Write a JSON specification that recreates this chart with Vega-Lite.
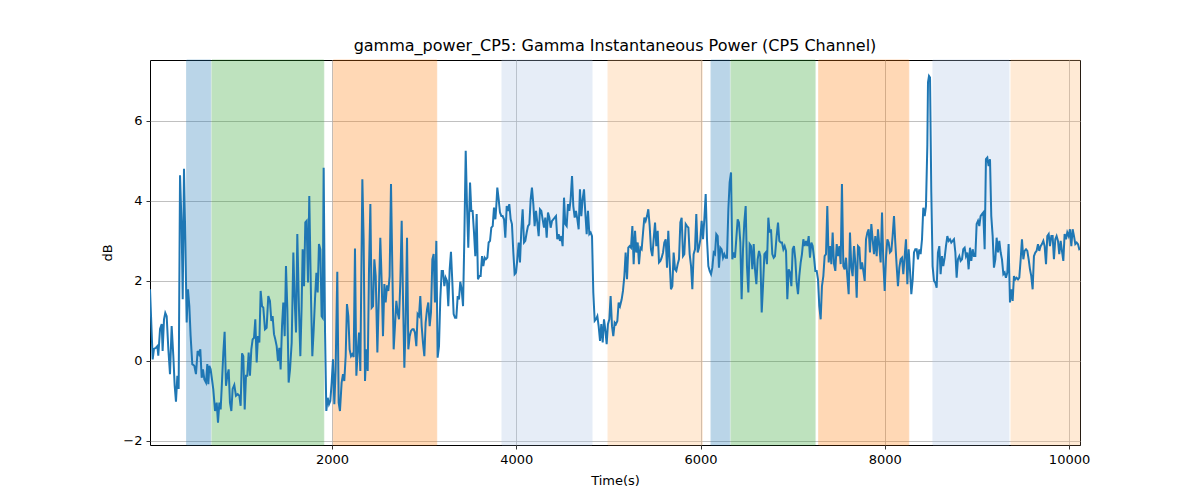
{
  "$schema": "https://vega.github.io/schema/vega-lite/v6.json",
  "description": "Gamma instantaneous power, CP5 channel, with shaded segments",
  "autosize": {"type": "none"},
  "padding": {"left": 150, "top": 60, "right": 120, "bottom": 55},
  "width": 930,
  "height": 385,
  "background": "white",
  "config": {
    "font": "DejaVu Sans",
    "view": {"stroke": "black", "strokeWidth": 1},
    "axis": {
      "domain": false,
      "grid": true,
      "gridColor": "#b0b0b0",
      "gridWidth": 0.8,
      "tickColor": "black",
      "tickSize": 4,
      "tickWidth": 0.8,
      "labelFont": "DejaVu Sans",
      "labelFontSize": 13,
      "labelColor": "black",
      "titleFont": "DejaVu Sans",
      "titleFontSize": 13,
      "titleFontWeight": "normal",
      "titleColor": "black"
    }
  },
  "title": {
    "text": "gamma_power_CP5: Gamma Instantaneous Power (CP5 Channel)",
    "fontSize": 16,
    "fontWeight": "normal",
    "color": "black",
    "font": "DejaVu Sans",
    "offset": 6
  },
  "datasets": {
    "bands": [
      {"start": 422, "end": 683, "kind": "a"},
      {"start": 697, "end": 1910, "kind": "b"},
      {"start": 2014, "end": 3136, "kind": "c"},
      {"start": 3845, "end": 4822, "kind": "d"},
      {"start": 4996, "end": 6019, "kind": "e"},
      {"start": 6114, "end": 6317, "kind": "a"},
      {"start": 6331, "end": 7243, "kind": "b"},
      {"start": 7283, "end": 8260, "kind": "c"},
      {"start": 8523, "end": 9348, "kind": "d"},
      {"start": 9370, "end": 10119, "kind": "e"}
    ],
    "power": [
      {"t":24,"v":1.79},{"t":53,"v":0.04},{"t":67,"v":0.3},{"t":89,"v":0.33},{"t":104,"v":0.37},{"t":114,"v":0.13},{"t":133,"v":0.8},{"t":151,"v":0.92},{"t":161,"v":0.25},{"t":176,"v":1.04},{"t":190,"v":1.2},{"t":205,"v":1.12},{"t":223,"v":0.3},{"t":241,"v":-0.33},{"t":259,"v":0.87},{"t":277,"v":0.13},{"t":292,"v":-0.62},{"t":306,"v":-1.02},{"t":321,"v":-0.37},{"t":335,"v":-0.7},{"t":350,"v":4.64},{"t":368,"v":3.3},{"t":379,"v":1.54},{"t":393,"v":4.8},{"t":408,"v":2.96},{"t":422,"v":0.96},{"t":436,"v":1.79},{"t":451,"v":1.37},{"t":465,"v":0.62},{"t":483,"v":-0.08},{"t":505,"v":-0.12},{"t":523,"v":-0.33},{"t":541,"v":0.25},{"t":556,"v":0.17},{"t":570,"v":0.29},{"t":585,"v":-0.42},{"t":599,"v":-0.21},{"t":614,"v":-0.46},{"t":632,"v":-0.54},{"t":646,"v":-0.08},{"t":657,"v":-0.58},{"t":668,"v":-0.12},{"t":682,"v":-0.21},{"t":697,"v":-0.46},{"t":711,"v":-0.71},{"t":730,"v":-1.25},{"t":748,"v":-1.04},{"t":762,"v":-1.54},{"t":777,"v":-1.04},{"t":791,"v":-1.21},{"t":805,"v":-0.54},{"t":820,"v":0.21},{"t":834,"v":0.73},{"t":849,"v":-0.62},{"t":863,"v":-0.37},{"t":878,"v":-0.21},{"t":892,"v":-1.04},{"t":907,"v":-1.25},{"t":921,"v":-0.7},{"t":939,"v":-0.6},{"t":957,"v":-0.87},{"t":976,"v":-0.83},{"t":994,"v":-0.87},{"t":1008,"v":-1.12},{"t":1023,"v":0.19},{"t":1037,"v":0.12},{"t":1052,"v":-1.21},{"t":1066,"v":-0.37},{"t":1080,"v":-0.37},{"t":1095,"v":0.21},{"t":1109,"v":-0.37},{"t":1124,"v":0.29},{"t":1138,"v":0.54},{"t":1153,"v":0.58},{"t":1167,"v":1.04},{"t":1182,"v":-0.04},{"t":1196,"v":0.62},{"t":1211,"v":0.46},{"t":1225,"v":1.75},{"t":1240,"v":1.37},{"t":1254,"v":1.33},{"t":1272,"v":0.79},{"t":1290,"v":0.83},{"t":1308,"v":1.62},{"t":1326,"v":1.5},{"t":1341,"v":1.0},{"t":1355,"v":1.12},{"t":1370,"v":0.67},{"t":1384,"v":0.54},{"t":1399,"v":0.37},{"t":1413,"v":0},{"t":1428,"v":0.33},{"t":1442,"v":-0.21},{"t":1457,"v":0.87},{"t":1471,"v":1.46},{"t":1486,"v":0.62},{"t":1500,"v":2.37},{"t":1515,"v":1.29},{"t":1529,"v":-0.54},{"t":1544,"v":-0.21},{"t":1562,"v":0.46},{"t":1580,"v":2.71},{"t":1594,"v":1.54},{"t":1609,"v":0.71},{"t":1623,"v":3.17},{"t":1641,"v":1.29},{"t":1656,"v":0.12},{"t":1670,"v":1.37},{"t":1681,"v":2.79},{"t":1696,"v":1.87},{"t":1710,"v":3.46},{"t":1724,"v":3.5},{"t":1739,"v":1.96},{"t":1753,"v":4.12},
      {"t":1772,"v":1.54},{"t":1786,"v":0.12},{"t":1801,"v":0.79},{"t":1815,"v":1.54},{"t":1830,"v":2.2},{"t":1844,"v":1.71},{"t":1858,"v":2.92},{"t":1873,"v":2.79},{"t":1887,"v":1.12},{"t":1898,"v":1.08},{"t":1909,"v":4.83},{"t":1924,"v":0.71},{"t":1938,"v":-1.25},{"t":1953,"v":-0.92},{"t":1967,"v":-1.08},{"t":1981,"v":-1.0},{"t":1996,"v":-0.54},{"t":2010,"v":0.04},{"t":2025,"v":-1.08},{"t":2039,"v":-0.21},{"t":2057,"v":2.23},{"t":2072,"v":-1.04},{"t":2086,"v":-1.25},{"t":2104,"v":-0.54},{"t":2119,"v":-0.33},{"t":2133,"v":-0.5},{"t":2148,"v":0.12},{"t":2162,"v":1.42},{"t":2177,"v":1.12},{"t":2191,"v":0.29},{"t":2206,"v":0.12},{"t":2220,"v":0.17},{"t":2235,"v":0.1},{"t":2249,"v":2.81},{"t":2264,"v":-0.37},{"t":2278,"v":0.21},{"t":2293,"v":0.71},{"t":2307,"v":-0.25},{"t":2329,"v":4.54},{"t":2343,"v":3.04},{"t":2358,"v":-0.5},{"t":2372,"v":0.29},{"t":2387,"v":-0.25},{"t":2401,"v":2.25},{"t":2416,"v":3.92},{"t":2430,"v":1.33},{"t":2445,"v":1.37},{"t":2459,"v":2.54},{"t":2474,"v":2.12},{"t":2492,"v":0.21},{"t":2510,"v":1.79},{"t":2524,"v":3.08},{"t":2539,"v":1.96},{"t":2553,"v":0.62},{"t":2568,"v":1.92},{"t":2582,"v":1.46},{"t":2597,"v":1.89},{"t":2611,"v":1.75},{"t":2625,"v":2.12},{"t":2640,"v":4.42},{"t":2654,"v":2.37},{"t":2669,"v":0.29},{"t":2683,"v":0.87},{"t":2698,"v":1.5},{"t":2712,"v":1.21},{"t":2727,"v":1.04},{"t":2741,"v":1.96},{"t":2756,"v":3.5},{"t":2770,"v":1.62},{"t":2785,"v":-0.17},{"t":2799,"v":0.96},{"t":2814,"v":3.08},{"t":2828,"v":0.29},{"t":2843,"v":0.62},{"t":2857,"v":0.75},{"t":2872,"v":0.79},{"t":2886,"v":0.79},{"t":2900,"v":0.71},{"t":2915,"v":0.37},{"t":2929,"v":1.17},{"t":2944,"v":1.12},{"t":2958,"v":1.62},{"t":2973,"v":0.87},{"t":2987,"v":0.46},{"t":3002,"v":0.12},{"t":3016,"v":0.96},{"t":3031,"v":1.29},{"t":3045,"v":1.46},{"t":3060,"v":0.87},{"t":3074,"v":1.21},{"t":3089,"v":2.54},{"t":3103,"v":2.67},{"t":3117,"v":1.46},{"t":3132,"v":3.0},{"t":3146,"v":0.08},{"t":3161,"v":0.37},{"t":3175,"v":1.54},{"t":3190,"v":2.25},{"t":3204,"v":2.25},{"t":3219,"v":1.87},{"t":3233,"v":2.08},{"t":3248,"v":2.0},{"t":3262,"v":1.37},{"t":3277,"v":2.29},{"t":3291,"v":2.73},{"t":3306,"v":1.96},{"t":3320,"v":1.17},{"t":3335,"v":1.08},{"t":3349,"v":1.08},{"t":3364,"v":1.62},{"t":3378,"v":1.54},{"t":3392,"v":1.98},{"t":3407,"v":1.79},
      {"t":3422,"v":1.37},{"t":3436,"v":3.04},{"t":3451,"v":5.25},{"t":3465,"v":3.87},{"t":3479,"v":2.83},{"t":3498,"v":4.46},{"t":3512,"v":3.75},{"t":3526,"v":3.75},{"t":3541,"v":3.21},{"t":3555,"v":2.62},{"t":3570,"v":3.67},{"t":3584,"v":2.04},{"t":3599,"v":2.12},{"t":3613,"v":2.12},{"t":3628,"v":2.62},{"t":3642,"v":2.37},{"t":3657,"v":2.58},{"t":3671,"v":2.54},{"t":3686,"v":2.58},{"t":3700,"v":2.96},{"t":3715,"v":3.0},{"t":3729,"v":3.33},{"t":3744,"v":3.37},{"t":3758,"v":3.83},{"t":3773,"v":3.54},{"t":3783,"v":3.87},{"t":3794,"v":4.33},{"t":3809,"v":4.04},{"t":3823,"v":3.71},{"t":3838,"v":3.62},{"t":3852,"v":3.62},{"t":3867,"v":3.54},{"t":3881,"v":3.08},{"t":3896,"v":3.87},{"t":3910,"v":3.75},{"t":3924,"v":3.92},{"t":3939,"v":3.54},{"t":3953,"v":3.42},{"t":3968,"v":2.71},{"t":3982,"v":2.17},{"t":3997,"v":2.21},{"t":4011,"v":2.54},{"t":4026,"v":2.96},{"t":4040,"v":2.46},{"t":4055,"v":3.29},{"t":4069,"v":3.79},{"t":4084,"v":2.96},{"t":4098,"v":3.0},{"t":4113,"v":3.21},{"t":4127,"v":3.37},{"t":4142,"v":3.42},{"t":4156,"v":4.04},{"t":4170,"v":4.33},{"t":4185,"v":3.92},{"t":4199,"v":3.37},{"t":4214,"v":3.75},{"t":4228,"v":3.46},{"t":4243,"v":3.12},{"t":4257,"v":3.79},{"t":4272,"v":3.75},{"t":4286,"v":3.54},{"t":4301,"v":3.33},{"t":4315,"v":3.58},{"t":4330,"v":3.08},{"t":4344,"v":3.71},{"t":4359,"v":3.58},{"t":4373,"v":3.33},{"t":4388,"v":3.5},{"t":4402,"v":3.54},{"t":4417,"v":3.58},{"t":4431,"v":3.62},{"t":4445,"v":3.04},{"t":4460,"v":3.17},{"t":4474,"v":3.0},{"t":4489,"v":3.12},{"t":4503,"v":2.87},{"t":4518,"v":4.08},{"t":4532,"v":3.42},{"t":4547,"v":3.37},{"t":4561,"v":3.92},{"t":4576,"v":3.75},{"t":4590,"v":4.04},{"t":4605,"v":4.62},{"t":4619,"v":3.87},{"t":4634,"v":3.58},{"t":4648,"v":3.75},{"t":4663,"v":3.54},{"t":4677,"v":3.29},{"t":4691,"v":4.29},{"t":4706,"v":3.62},{"t":4720,"v":4.04},{"t":4735,"v":4.29},{"t":4749,"v":3.71},{"t":4764,"v":3.17},{"t":4778,"v":3.75},{"t":4793,"v":3.17},{"t":4807,"v":3.21},{"t":4822,"v":3.12},{"t":4836,"v":1.71},{"t":4851,"v":1.0},{"t":4865,"v":1.04},{"t":4880,"v":1.12},{"t":4894,"v":0.87},{"t":4909,"v":0.5},{"t":4923,"v":0.92},{"t":4938,"v":0.46},{"t":4952,"v":1.04},{"t":4966,"v":0.79},{"t":4981,"v":0.42},{"t":4995,"v":0.92},{"t":5010,"v":1.04},{"t":5024,"v":1.62},{"t":5039,"v":0.87},{"t":5053,"v":0.62},{"t":5068,"v":0.96},{"t":5082,"v":0.92},{"t":5097,"v":1.0},{"t":5111,"v":1.46},{"t":5126,"v":1.37},
      {"t":5144,"v":1.54},{"t":5158,"v":1.75},{"t":5173,"v":2.12},{"t":5187,"v":2.71},{"t":5202,"v":2.04},{"t":5216,"v":2.83},{"t":5231,"v":2.87},{"t":5245,"v":2.83},{"t":5260,"v":3.37},{"t":5274,"v":2.42},{"t":5289,"v":3.25},{"t":5303,"v":2.71},{"t":5318,"v":2.96},{"t":5332,"v":2.42},{"t":5347,"v":2.83},{"t":5361,"v":2.79},{"t":5376,"v":3.21},{"t":5390,"v":3.58},{"t":5404,"v":3.5},{"t":5419,"v":3.62},{"t":5433,"v":3.79},{"t":5448,"v":3.37},{"t":5462,"v":2.79},{"t":5477,"v":2.62},{"t":5491,"v":3.04},{"t":5506,"v":3.46},{"t":5520,"v":2.87},{"t":5535,"v":3.25},{"t":5549,"v":2.46},{"t":5564,"v":2.5},{"t":5578,"v":2.58},{"t":5593,"v":2.71},{"t":5607,"v":2.96},{"t":5622,"v":3.04},{"t":5636,"v":2.33},{"t":5650,"v":3.25},{"t":5665,"v":2.46},{"t":5679,"v":1.79},{"t":5694,"v":1.87},{"t":5708,"v":2.71},{"t":5723,"v":2.29},{"t":5737,"v":2.25},{"t":5752,"v":2.42},{"t":5766,"v":2.54},{"t":5781,"v":3.46},{"t":5795,"v":3.58},{"t":5810,"v":2.62},{"t":5824,"v":2.67},{"t":5839,"v":3.42},{"t":5853,"v":3.37},{"t":5868,"v":3.33},{"t":5882,"v":2.67},{"t":5897,"v":2.37},{"t":5911,"v":1.79},{"t":5925,"v":2.67},{"t":5940,"v":2.79},{"t":5954,"v":3.67},{"t":5969,"v":2.71},{"t":5983,"v":2.83},{"t":5998,"v":3.04},{"t":6012,"v":3.5},{"t":6027,"v":3.04},{"t":6041,"v":3.54},{"t":6056,"v":4.17},{"t":6070,"v":3.04},{"t":6085,"v":2.37},{"t":6099,"v":2.25},{"t":6114,"v":2.17},{"t":6128,"v":2.33},{"t":6143,"v":2.71},{"t":6157,"v":2.67},{"t":6171,"v":3.17},{"t":6186,"v":3.12},{"t":6200,"v":2.33},{"t":6215,"v":2.83},{"t":6229,"v":2.79},{"t":6244,"v":2.58},{"t":6258,"v":2.67},{"t":6273,"v":2.58},{"t":6287,"v":2.58},{"t":6302,"v":3.79},{"t":6316,"v":4.46},{"t":6331,"v":4.71},{"t":6345,"v":2.54},{"t":6360,"v":2.71},{"t":6374,"v":2.58},{"t":6389,"v":3.08},{"t":6403,"v":3.54},{"t":6417,"v":3.46},{"t":6432,"v":2.96},{"t":6446,"v":1.54},{"t":6461,"v":2.79},{"t":6475,"v":3.46},{"t":6490,"v":3.87},{"t":6504,"v":2.37},{"t":6519,"v":1.71},{"t":6533,"v":2.92},{"t":6548,"v":2.87},{"t":6562,"v":2.29},{"t":6577,"v":2.92},{"t":6591,"v":2.29},{"t":6606,"v":1.92},{"t":6620,"v":2.54},{"t":6635,"v":2.75},{"t":6649,"v":2.62},{"t":6664,"v":1.21},{"t":6678,"v":1.87},{"t":6693,"v":2.67},{"t":6707,"v":2.71},{"t":6721,"v":2.42},{"t":6736,"v":3.58},{"t":6750,"v":3.21},{"t":6765,"v":3.29},{"t":6779,"v":2.67},{"t":6794,"v":2.58},{"t":6808,"v":2.62},
      {"t":6826,"v":3.12},{"t":6841,"v":3.46},{"t":6855,"v":3.0},{"t":6870,"v":2.96},{"t":6884,"v":2.96},{"t":6899,"v":2.79},{"t":6913,"v":2.87},{"t":6928,"v":2.75},{"t":6942,"v":1.54},{"t":6957,"v":2.29},{"t":6971,"v":2.21},{"t":6986,"v":1.87},{"t":7000,"v":2.79},{"t":7014,"v":2.87},{"t":7029,"v":2.54},{"t":7043,"v":1.96},{"t":7058,"v":1.67},{"t":7072,"v":2.12},{"t":7087,"v":2.46},{"t":7101,"v":2.67},{"t":7116,"v":3.04},{"t":7130,"v":2.87},{"t":7145,"v":3.0},{"t":7159,"v":2.87},{"t":7174,"v":3.12},{"t":7188,"v":2.58},{"t":7203,"v":2.96},{"t":7217,"v":2.87},{"t":7232,"v":2.58},{"t":7246,"v":2.25},{"t":7261,"v":2.25},{"t":7275,"v":2.04},{"t":7289,"v":1.37},{"t":7304,"v":1.04},{"t":7318,"v":1.87},{"t":7333,"v":2.12},{"t":7347,"v":2.62},{"t":7362,"v":2.67},{"t":7376,"v":3.87},{"t":7391,"v":2.46},{"t":7405,"v":2.87},{"t":7420,"v":2.42},{"t":7434,"v":3.21},{"t":7449,"v":2.42},{"t":7463,"v":2.25},{"t":7478,"v":2.92},{"t":7492,"v":2.62},{"t":7507,"v":2.87},{"t":7521,"v":2.42},{"t":7535,"v":4.42},{"t":7550,"v":2.37},{"t":7564,"v":2.29},{"t":7579,"v":2.58},{"t":7593,"v":2.12},{"t":7608,"v":1.67},{"t":7622,"v":3.21},{"t":7637,"v":2.33},{"t":7651,"v":2.12},{"t":7666,"v":2.87},{"t":7680,"v":2.46},{"t":7695,"v":1.58},{"t":7709,"v":2.87},{"t":7724,"v":2.83},{"t":7738,"v":2.29},{"t":7753,"v":2.46},{"t":7767,"v":2.25},{"t":7782,"v":2.0},{"t":7796,"v":3.04},{"t":7811,"v":3.21},{"t":7825,"v":3.29},{"t":7839,"v":2.71},{"t":7854,"v":3.42},{"t":7868,"v":3.04},{"t":7883,"v":2.67},{"t":7897,"v":3.12},{"t":7912,"v":2.62},{"t":7926,"v":3.29},{"t":7941,"v":2.87},{"t":7955,"v":2.46},{"t":7970,"v":3.71},{"t":7984,"v":2.46},{"t":7999,"v":1.75},{"t":8013,"v":2.58},{"t":8028,"v":3.04},{"t":8042,"v":2.96},{"t":8056,"v":2.71},{"t":8071,"v":2.75},{"t":8085,"v":3.12},{"t":8100,"v":3.62},{"t":8114,"v":2.96},{"t":8129,"v":2.37},{"t":8143,"v":1.87},{"t":8158,"v":2.33},{"t":8172,"v":2.54},{"t":8187,"v":2.58},{"t":8201,"v":2.17},{"t":8216,"v":2.62},{"t":8230,"v":3.04},{"t":8245,"v":1.92},{"t":8259,"v":2.79},{"t":8274,"v":2.25},{"t":8288,"v":1.67},{"t":8303,"v":2.04},{"t":8317,"v":2.71},{"t":8331,"v":2.79},{"t":8346,"v":2.79},{"t":8360,"v":2.54},{"t":8375,"v":2.79},{"t":8389,"v":2.67},{"t":8404,"v":3.04},{"t":8418,"v":3.83},{"t":8433,"v":3.62},{"t":8447,"v":3.87},
      {"t":8462,"v":5.4},{"t":8469,"v":6.96},{"t":8480,"v":7.12},{"t":8491,"v":7.08},{"t":8505,"v":4.21},{"t":8519,"v":2.37},{"t":8534,"v":2.0},{"t":8548,"v":1.96},{"t":8563,"v":1.83},{"t":8577,"v":2.71},{"t":8592,"v":2.87},{"t":8606,"v":2.17},{"t":8621,"v":2.62},{"t":8635,"v":2.37},{"t":8650,"v":2.58},{"t":8664,"v":2.87},{"t":8679,"v":3.12},{"t":8693,"v":3.0},{"t":8708,"v":3.04},{"t":8722,"v":2.96},{"t":8737,"v":3.0},{"t":8751,"v":3.04},{"t":8766,"v":2.71},{"t":8780,"v":2.08},{"t":8794,"v":2.54},{"t":8809,"v":2.62},{"t":8823,"v":2.5},{"t":8838,"v":2.54},{"t":8852,"v":2.79},{"t":8867,"v":2.83},{"t":8881,"v":2.62},{"t":8896,"v":2.71},{"t":8910,"v":2.29},{"t":8925,"v":2.83},{"t":8939,"v":2.5},{"t":8954,"v":2.79},{"t":8968,"v":2.62},{"t":8983,"v":2.62},{"t":8997,"v":3.42},{"t":9012,"v":3.5},{"t":9026,"v":3.37},{"t":9040,"v":3.62},{"t":9055,"v":3.67},{"t":9069,"v":3.71},{"t":9084,"v":2.79},{"t":9098,"v":5.04},{"t":9113,"v":5.08},{"t":9127,"v":4.87},{"t":9142,"v":5.04},{"t":9156,"v":3.62},{"t":9171,"v":3.12},{"t":9185,"v":2.33},{"t":9200,"v":2.54},{"t":9214,"v":3.08},{"t":9229,"v":2.71},{"t":9243,"v":3.0},{"t":9258,"v":2.71},{"t":9272,"v":2.54},{"t":9287,"v":2.17},{"t":9301,"v":2.21},{"t":9315,"v":2.08},{"t":9330,"v":2.21},{"t":9344,"v":2.92},{"t":9359,"v":1.46},{"t":9373,"v":1.79},{"t":9388,"v":1.5},{"t":9402,"v":2.12},{"t":9417,"v":2.04},{"t":9431,"v":2.08},{"t":9446,"v":2.04},{"t":9460,"v":2.08},{"t":9475,"v":2.54},{"t":9489,"v":3.04},{"t":9504,"v":2.54},{"t":9518,"v":2.75},{"t":9533,"v":2.79},{"t":9547,"v":2.75},{"t":9562,"v":2.54},{"t":9576,"v":2.29},{"t":9590,"v":2.12},{"t":9605,"v":1.79},{"t":9619,"v":2.62},{"t":9634,"v":2.71},{"t":9648,"v":2.75},{"t":9663,"v":2.92},{"t":9677,"v":2.75},{"t":9692,"v":2.87},{"t":9706,"v":2.92},{"t":9721,"v":3.0},{"t":9735,"v":2.87},{"t":9750,"v":2.42},{"t":9764,"v":3.12},{"t":9779,"v":3.17},{"t":9793,"v":2.87},{"t":9808,"v":3.12},{"t":9822,"v":3.12},{"t":9836,"v":2.54},{"t":9851,"v":3.04},{"t":9865,"v":3.12},{"t":9880,"v":3.0},{"t":9894,"v":2.67},{"t":9909,"v":3.0},{"t":9923,"v":2.75},{"t":9938,"v":2.5},{"t":9952,"v":3.17},{"t":9967,"v":3.04},{"t":9981,"v":3.21},{"t":9996,"v":3.12},{"t":10010,"v":3.29},{"t":10025,"v":2.87},{"t":10039,"v":3.29},{"t":10054,"v":3.12},{"t":10068,"v":2.92},{"t":10083,"v":2.96},{"t":10097,"v":2.92},{"t":10111,"v":2.79},{"t":10119,"v":2.8}
    ]
  },
  "layer": [
    {
      "data": {"name": "bands"},
      "mark": {"type": "rect", "opacity": 0.3, "strokeWidth": 1},
      "encoding": {
        "x": {"field": "start", "type": "quantitative"},
        "x2": {"field": "end"},
        "color": {
          "field": "kind",
          "type": "nominal",
          "scale": {
            "domain": ["a", "b", "c", "d", "e"],
            "range": ["#1f77b4", "#2ca02c", "#ff7f0e", "#aec7e8", "#ffbb78"]
          },
          "legend": null
        },
        "stroke": {
          "field": "kind",
          "type": "nominal",
          "scale": {
            "domain": ["a", "b", "c", "d", "e"],
            "range": ["#1f77b4", "#2ca02c", "#ff7f0e", "#aec7e8", "#ffbb78"]
          },
          "legend": null
        }
      }
    },
    {
      "data": {"name": "power"},
      "mark": {"type": "line", "color": "#1f77b4", "strokeWidth": 2, "clip": true},
      "encoding": {
        "x": {
          "field": "t",
          "type": "quantitative",
          "title": "Time(s)",
          "scale": {"domain": [24, 10119], "nice": false, "zero": false},
          "axis": {"values": [2000, 4000, 6000, 8000, 10000], "format": "d", "labelPadding": 4, "titlePadding": 8}
        },
        "y": {
          "field": "v",
          "type": "quantitative",
          "title": "dB",
          "scale": {"domain": [-2.1, 7.52], "nice": false, "zero": false},
          "axis": {"values": [-2, 0, 2, 4, 6], "labelPadding": 4, "titlePadding": 8}
        }
      }
    }
  ]
}
